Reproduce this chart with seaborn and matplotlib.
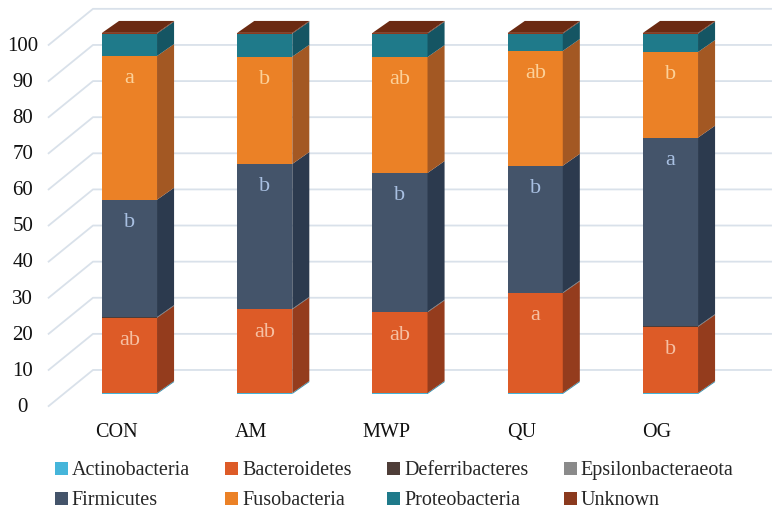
import numpy as np
import pandas as pd
import matplotlib
matplotlib.use("Agg")
import matplotlib.pyplot as plt
from matplotlib.patches import Polygon, Patch
import seaborn as sns

# Data (relative abundance, %)
groups = ["CON", "AM", "MWP", "QU", "OG"]
phyla = ["Actinobacteria", "Bacteroidetes", "Deferribacteres", "Epsilonbacteraeota",
         "Firmicutes", "Fusobacteria", "Proteobacteria", "Unknown"]
actinobacteria = [0.3, 0.3, 0.3, 0.3, 0.3]
bacteroidetes = [20.8, 23.1, 22.3, 27.6, 18.3]
deferribacteres = [0.1, 0.1, 0.1, 0.1, 0.1]
epsilonbacteraeota = [0.1, 0.1, 0.1, 0.1, 0.1]
firmicutes = [32.5, 40.1, 38.4, 35.1, 52.2]
fusobacteria = [39.8, 29.7, 32.1, 31.8, 23.7]
proteobacteria = [6.2, 6.4, 6.5, 4.8, 5.1]
unknown = [0.2, 0.2, 0.2, 0.2, 0.2]

# significance letters
letters = {
    "Bacteroidetes": ["ab", "ab", "ab", "a", "b"],
    "Firmicutes": ["b", "b", "b", "b", "a"],
    "Fusobacteria": ["a", "b", "ab", "ab", "b"],
}
yticks = [0, 10, 20, 30, 40, 50, 60, 70, 80, 90, 100]

df = pd.DataFrame(
    [actinobacteria, bacteroidetes, deferribacteres, epsilonbacteraeota,
     firmicutes, fusobacteria, proteobacteria, unknown],
    index=phyla, columns=groups)

front = {"Actinobacteria": "#45b5da", "Bacteroidetes": "#dd5b27", "Deferribacteres": "#4e3d38",
         "Epsilonbacteraeota": "#8a8a8a", "Firmicutes": "#44546a", "Fusobacteria": "#eb8126",
         "Proteobacteria": "#1f7a8a", "Unknown": "#8b3a1e"}
side = {"Actinobacteria": "#2f8eae", "Bacteroidetes": "#943c1d", "Deferribacteres": "#3a2d29",
        "Epsilonbacteraeota": "#666666", "Firmicutes": "#2c3a4e", "Fusobacteria": "#a35823",
        "Proteobacteria": "#155563", "Unknown": "#6b2a12"}
text_col = {"Bacteroidetes": "#f6c0a3", "Firmicutes": "#a9c0e2", "Fusobacteria": "#fcd199"}

sns.set_theme(style="white")
plt.rcParams["font.family"] = ["Liberation Serif", "DejaVu Serif"]

fig = plt.figure(figsize=(7.76, 5.11), dpi=100)
ax = fig.add_axes([0, 0, 1, 1])

W = 0.407      # bar width (category units)
DX, DY = 0.126, 3.3   # 3D depth offset
grid_c = "#d9e1ea"

# back wall gridlines with oblique floor-side segments
for v in yticks:
    ax.plot([-0.603, -0.27, 4.75], [v - 3.5, v + 6.65, v + 6.65],
            color=grid_c, lw=1.3, zorder=0, solid_capstyle="butt")
    ax.text(-0.79, v - 3.7, str(v), ha="center", va="center", fontsize=15, color="#111111")

# front faces: draw cumulative totals from top layer down
cum = df.cumsum()
for name in phyla[::-1]:
    sns.barplot(x=groups, y=cum.loc[name].values, color=front[name], saturation=1,
                width=W, linewidth=0, ax=ax, zorder=2)

# side and top faces
xs = np.arange(len(groups))
for i, g in enumerate(groups):
    bottom = 0.0
    for name in phyla:
        top = bottom + df.loc[name, g]
        xr = xs[i] + W / 2
        ax.add_patch(Polygon([(xr, bottom), (xr + DX, bottom + DY), (xr + DX, top + DY), (xr, top)],
                             closed=True, facecolor=side[name], edgecolor="none", zorder=2))
        if name in letters:
            ax.text(xs[i], top - 6.3, letters[name][i], ha="center", va="center",
                    fontsize=16, color=text_col[name], zorder=3)
        bottom = top
    xl = xs[i] - W / 2
    ax.add_patch(Polygon([(xl, bottom), (xl + W, bottom), (xl + W + DX, bottom + DY), (xl + DX, bottom + DY)],
                         closed=True, facecolor="#6b2a12", edgecolor="none", zorder=2))
    ax.text(xs[i] - 0.1, -10.8, g, ha="center", va="center", fontsize=14.5, color="#111111")

ax.set_xlim(-0.9575, 4.78)
ax.set_ylim(-32.4, 109.1)
ax.axis("off")

order = ["Actinobacteria", "Firmicutes", "Bacteroidetes", "Fusobacteria",
         "Deferribacteres", "Proteobacteria", "Epsilonbacteraeota", "Unknown"]
handles = [Patch(facecolor=front[n], edgecolor="none", label=n) for n in order]
fig.legend(handles=handles, ncol=4, loc="center", bbox_to_anchor=(0.508, 0.049),
           frameon=False, fontsize=14.5, handlelength=0.65, handleheight=0.65,
           handletextpad=0.2, columnspacing=1.75, labelspacing=0.55)

fig.savefig("out.png", dpi=100, facecolor="white")
